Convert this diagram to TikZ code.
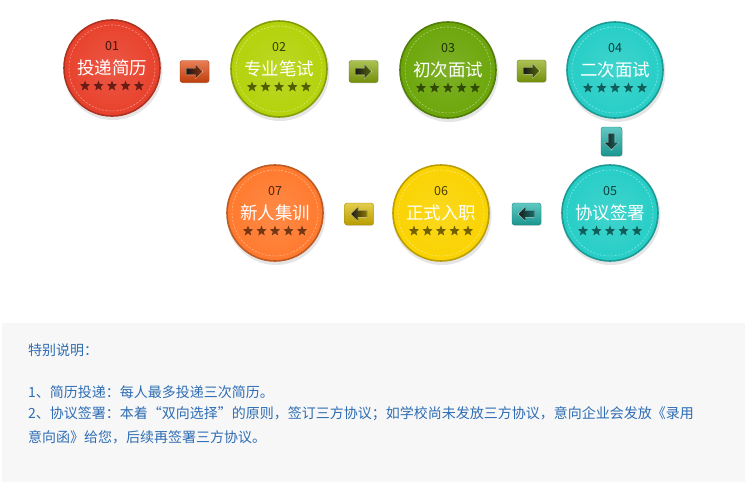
\documentclass[tikz,border=0pt]{standalone}
\usepackage{fontspec}
\setmainfont{Noto Sans CJK SC}
\usetikzlibrary{shapes.geometric,calc,shadows}
\definecolor{cred}{HTML}{E8412C}
\definecolor{clime}{HTML}{B4D20A}
\definecolor{cgreen}{HTML}{6CA60A}
\definecolor{cteal}{HTML}{26CEC6}
\definecolor{cyellow}{HTML}{FAD300}
\definecolor{corange}{HTML}{FF7A2E}
\definecolor{aorange}{HTML}{E0480E}
\definecolor{aolive}{HTML}{88A80C}
\definecolor{ateal}{HTML}{1EB0A8}
\definecolor{ayellow}{HTML}{D8B800}
\definecolor{notebg}{HTML}{F7F7F7}
\definecolor{notetext}{HTML}{2E6DB4}
\tikzset{
  ballnum/.style={font=\fontsize{12.5}{12.5}\selectfont, inner sep=0},
  balltitle/.style={text=white, font=\fontsize{17.5}{17.5}\selectfont, inner sep=0},
  ballstar/.style={star, star points=5, star point ratio=2.4, inner sep=0, minimum size=11},
  notetxt/.style={anchor=west, text=notetext, font=\fontsize{14}{14}\selectfont, inner sep=0},
  abox/.style={rounded corners=2.5, inner sep=0, line width=0.4,
     drop shadow={opacity=0.25, shadow xshift=0.6pt, shadow yshift=-0.8pt}}
}
\newcommand\stepball[6]{%
  \fill[black,opacity=0.10] (#2+1,#3+2.5) circle (49.5);
  \node[circle, minimum size=96, inner sep=0, draw=#4!75!black, line width=1.6,
        inner color=#4!88!white, outer color=#4] (#1) at (#2,#3) {};
  \draw[#4!55!white, dash pattern=on 2pt off 1.6pt, line width=0.6] (#1.center) circle (43);
  \node[ballnum, text=#4!30!black] (#1n) at ($(#1.center)+(0,-22)$) {#5};
  \node[balltitle] (#1t) at ($(#1.center)+(0,0)$) {#6};
  \foreach \k in {-2,...,2}
    \node[ballstar, fill=#4!45!black] (#1s\k) at ($(#1.center)+(\k*13.5,18)$) {};
}
\newcommand\arrowbox[5]{%
  \node[abox, #5, top color=#3!70!white, bottom color=#3!85!black, draw=#3!75!black] (#1) at #2 {};
  \begin{scope}[shift={(#1.center)}, rotate=#4]
    \fill[left color=black!90, right color=#3!65!black, draw=#3!35!white, line width=0.4]
      (-8,-3.3) -- (1,-3.3) -- (1,-7.3) -- (8.5,0) -- (1,7.3) -- (1,3.3) -- (-8,3.3) -- cycle;
  \end{scope}
}
\begin{document}
\begin{tikzpicture}[x=1pt,y=-1pt]
\useasboundingbox (0,0) rectangle (745,482);
\fill[white] (0,0) rectangle (745,482);
% steps
\stepball{c1}{112}{68}{cred}{01}{投递简历}
\stepball{c2}{279}{69}{clime}{02}{专业笔试}
\stepball{c3}{448}{70}{cgreen}{03}{初次面试}
\stepball{c4}{615}{70}{cteal}{04}{二次面试}
\stepball{c5}{610}{213}{cteal}{05}{协议签署}
\stepball{c6}{441}{213}{cyellow}{06}{正式入职}
\stepball{c7}{275}{213}{corange}{07}{新人集训}
% arrows
\arrowbox{a1}{($(c1.center)!0.5!(c2.center)+(-1,3)$)}{aorange}{0}{minimum width=29, minimum height=22}
\arrowbox{a2}{($(c2.center)!0.5!(c3.center)+(0,2)$)}{aolive}{0}{minimum width=29, minimum height=22}
\arrowbox{a3}{($(c3.center)!0.5!(c4.center)+(0,1)$)}{aolive}{0}{minimum width=29, minimum height=22}
\arrowbox{a4}{($(c4.center)!0.5!(c5.center)+(-1,0)$)}{ateal}{-90}{minimum width=21, minimum height=29}
\arrowbox{a5}{($(c5.center)!0.5!(c6.center)+(1,1)$)}{ateal}{180}{minimum width=29, minimum height=22}
\arrowbox{a6}{($(c6.center)!0.5!(c7.center)+(1,1)$)}{ayellow}{180}{minimum width=29, minimum height=22}
% note panel
\fill[notebg] (2,323) rectangle (745,482);
\node[notetxt] (n0) at (28,350) {特别说明：};
\node[notetxt] (n1) at (28,392) {1、简历投递：每人最多投递三次简历。};
\node[notetxt] (n2) at (28,414) {2、协议签署：本着“双向选择”的原则，签订三方协议；如学校尚未发放三方协议，意向企业会发放《录用};
\node[notetxt] (n3) at (28,437) {意向函》给您，后续再签署三方协议。};
\end{tikzpicture}
\end{document}
